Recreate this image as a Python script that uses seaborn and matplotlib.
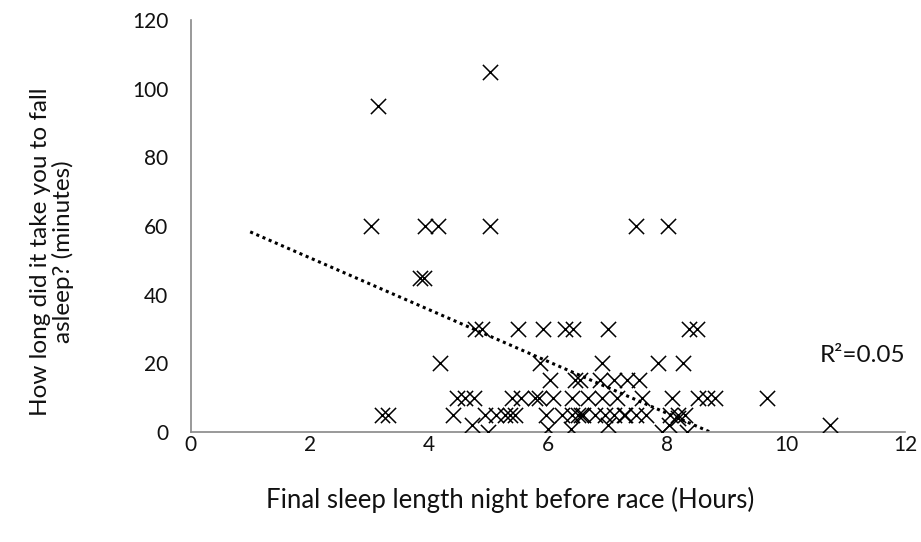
import matplotlib
matplotlib.use("Agg")
import matplotlib.pyplot as plt
import seaborn as sns
import pandas as pd
import numpy as np

# Data
sleep_hours = [
    3.14, 5.02,
    3.02, 3.94, 4.16, 5.02, 7.48, 8.02,
    3.85, 3.92,
    4.77, 4.90, 5.50, 5.92, 6.29, 6.42, 7.01, 8.36, 8.51,
    4.18, 5.87, 6.91, 7.84, 8.26,
    6.04, 6.46, 6.54, 6.88, 7.10, 7.33, 7.52,
    4.48, 4.61, 4.75, 5.40, 5.54, 5.79, 5.85, 6.09, 6.41, 6.68, 6.91, 7.16,
    7.58, 8.09, 8.52, 8.67, 8.81, 9.68,
    3.22, 3.32, 4.41, 4.95, 5.12, 5.28, 5.37, 5.45, 5.96, 6.24, 6.41, 6.59,
    6.79, 6.96, 7.10, 7.27, 7.30, 7.47, 7.64, 8.05, 8.19, 8.30, 6.50, 6.55,
    4.73, 5.00, 6.00, 6.38, 7.00, 7.92, 8.04, 8.19, 8.34, 10.74,
]
minutes_to_sleep = [
    95, 105,
    60, 60, 60, 60, 60, 60,
    45, 45,
    30, 30, 30, 30, 30, 30, 30, 30, 30,
    20, 20, 20, 20, 20,
    15, 15, 15, 15, 15, 15, 15,
    10, 10, 10, 10, 10, 10, 10, 10, 10, 10, 10, 10,
    10, 10, 10, 10, 10, 10,
    5, 5, 5, 5, 5, 5, 5, 5, 5, 5, 5, 5,
    5, 5, 5, 5, 5, 5, 5, 5, 5, 5, 5, 5,
    2, 0, 1, 1, 2, 0, 2, 4, 0, 2,
]

# Trendline as drawn in the reference (endpoints of the dotted line)
trend_hours = [1.0, 8.72]
trend_minutes = [58.3, 0.0]
r2_label = "R\u00b2=0.05"

x_ticks = [0, 2, 4, 6, 8, 10, 12]
y_ticks = [0, 20, 40, 60, 80, 100, 120]

df = pd.DataFrame({"hours": sleep_hours, "minutes": minutes_to_sleep})
trend = pd.DataFrame({"hours": trend_hours, "minutes": trend_minutes})

sns.set_theme(style="white")
plt.rcParams["font.family"] = ["Lato", "DejaVu Sans"]

fig = plt.figure(figsize=(9.21, 5.42), dpi=100)
ax = fig.add_axes([0.207, 0.203, 0.776, 0.760])

sns.scatterplot(data=df, x="hours", y="minutes", ax=ax, marker="x",
                color="black", s=120, linewidth=1.1, zorder=3)
sns.lineplot(data=trend, x="hours", y="minutes", ax=ax, color="black",
             linestyle=(0, (1.0, 1.2)), linewidth=2.2, zorder=2)

ax.set_xlim(0, 12)
ax.set_ylim(0, 120)
ax.set_xticks(x_ticks)
ax.set_yticks(y_ticks)
ax.set_xticklabels([str(t) for t in x_ticks], fontsize=15)
ax.set_yticklabels([str(t) for t in y_ticks], fontsize=15)
ax.tick_params(axis="x", length=0, pad=2, colors="#111111")
ax.tick_params(axis="y", length=0, pad=16, colors="#111111")

for side in ["top", "right"]:
    ax.spines[side].set_visible(False)
for side in ["left", "bottom"]:
    ax.spines[side].set_color("#888888")
    ax.spines[side].set_linewidth(1.2)

ax.set_xlabel("Final sleep length night before race (Hours)", fontsize=18.5,
              color="#111111")
ax.xaxis.set_label_coords(0.447, -0.133)
ax.set_ylabel("How long did it take you to fall\nasleep? (minutes)",
              fontsize=17.5, color="#111111", linespacing=1.05)
ax.yaxis.set_label_coords(-0.163, 0.437)

ax.text(12.0, 22.4, r2_label, ha="right", va="center", fontsize=17.5,
        color="#111111")

fig.savefig("out.png", dpi=100, facecolor="white")
